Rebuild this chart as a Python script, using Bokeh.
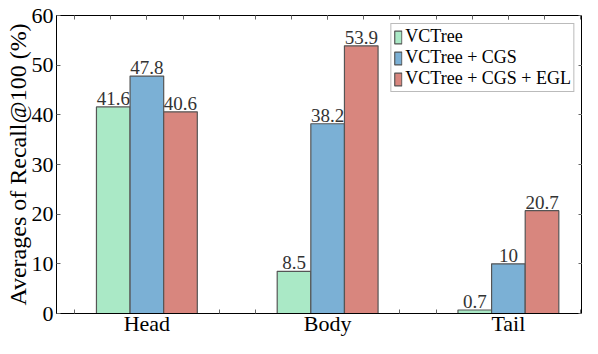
import numpy as np
from bokeh.plotting import figure
from bokeh.models import Range1d, FixedTicker, LinearAxis, Legend, LegendItem
from bokeh.core.properties import value
from bokeh.embed import file_html
from bokeh.resources import INLINE

categories = ["Head", "Body", "Tail"]
series_names = ["VCTree", "VCTree + CGS", "VCTree + CGS + EGL"]
vctree = [41.6, 8.5, 0.7]
vctree_cgs = [47.8, 38.2, 10]
vctree_cgs_egl = [40.6, 53.9, 20.7]
y_ticks = [0, 10, 20, 30, 40, 50, 60]

series = [vctree, vctree_cgs, vctree_cgs_egl]
colors = ["#aae9c6", "#7bb0d5", "#d8867e"]
FONT = "Liberation Serif"
bw = 0.186

p = figure(width=582, height=338, x_range=Range1d(-0.5, 2.41), y_range=Range1d(0, 60),
           output_backend="svg", toolbar_location=None,
           min_border_left=56, min_border_right=0, min_border_top=15, min_border_bottom=0)
p.xgrid.visible = False
p.ygrid.visible = False
p.outline_line_color = "black"
p.outline_line_width = 1

idx = np.arange(len(categories))
minor_all = [round(v, 1) for v in np.arange(-0.4, 2.45, 0.2)]
# ticks hidden behind the bar groups are not drawn on the bottom axis
minor_visible = [v for v in minor_all if abs(v - round(v)) > 1.5 * bw]
xticker_top = FixedTicker(ticks=list(range(len(categories))), minor_ticks=minor_all)
xticker_bottom = FixedTicker(ticks=list(range(len(categories))), minor_ticks=minor_visible)
yticker = FixedTicker(ticks=y_ticks, minor_ticks=[])

# bottom axis
xa = p.xaxis[0]
xa.ticker = xticker_bottom
xa.major_label_overrides = {i: c for i, c in enumerate(categories)}
xa.major_label_text_font = FONT
xa.major_label_text_font_size = "22px"
xa.major_label_text_color = "black"
xa.major_label_standoff = -3
xa.major_tick_in = 0
xa.major_tick_out = 0
xa.minor_tick_in = 4
xa.minor_tick_out = 0
xa.minor_tick_line_color = "#666"
xa.axis_line_color = "black"

# left axis
ya = p.yaxis[0]
ya.ticker = yticker
ya.axis_label = "Averages of Recall@100 (%)"
ya.axis_label_text_font = FONT
ya.axis_label_text_font_size = "24px"
ya.axis_label_text_font_style = "normal"
ya.axis_label_text_color = "black"
ya.axis_label_standoff = -2
ya.major_label_text_font = FONT
ya.major_label_text_font_size = "22px"
ya.major_label_text_color = "black"
ya.major_label_standoff = 3
ya.major_tick_in = 4
ya.major_tick_out = 0
ya.minor_tick_in = 0
ya.minor_tick_out = 0
ya.major_tick_line_color = "#666"
ya.axis_line_color = "black"

top = LinearAxis(ticker=xticker_top, major_label_text_font_size="1px", major_label_standoff=0,
                 major_label_overrides={i: "" for i in range(len(categories))},
                 major_tick_in=4, major_tick_out=0, minor_tick_in=4, minor_tick_out=0,
                 major_tick_line_color="#666", minor_tick_line_color="#666", axis_line_color="black")
p.add_layout(top, "above")
right = LinearAxis(ticker=yticker, major_label_text_font_size="1px", major_label_standoff=0,
                   major_label_overrides={t: "" for t in y_ticks},
                   major_tick_in=4, major_tick_out=0, minor_tick_in=0, minor_tick_out=0,
                   major_tick_line_color="#666", axis_line_color="black")
p.add_layout(right, "right")

items = []
for k, (vals, col, name) in enumerate(zip(series, colors, series_names)):
    xs = idx + (k - 1) * bw
    r = p.vbar(x=xs, top=vals, width=bw, fill_color=col, line_color="#555", line_width=1.2)
    items.append(LegendItem(label=name, renderers=[r]))
    p.text(x=xs, y=vals, text=[f"{v:g}" for v in vals], text_align="center",
           text_baseline="bottom", y_offset=-2,
           text_font=value(FONT), text_font_size="19px", text_color="#333")

legend = Legend(items=items, location="top_right", margin=8,
                label_text_font=FONT, label_text_font_size="18px", label_text_color="black",
                glyph_width=9, glyph_height=16, label_height=16, spacing=0, padding=2,
                label_standoff=3, border_line_color="#777", border_line_width=1,
                background_fill_color="white", background_fill_alpha=1)
p.add_layout(legend)

open("out.html", "w").write(file_html(p, INLINE))
